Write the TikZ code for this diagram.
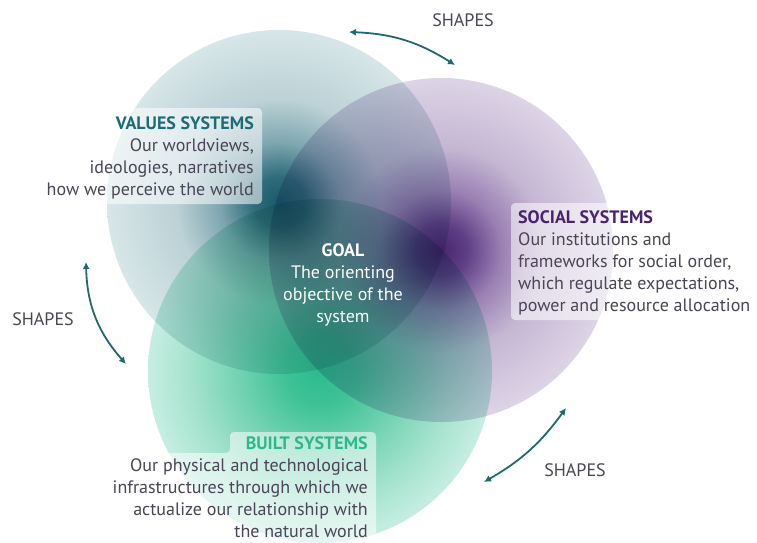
\documentclass[tikz,border=0pt]{standalone}
\usepackage{fontspec}
\setmainfont{PT Sans}
\usetikzlibrary{arrows.meta}
\definecolor{tealA}{HTML}{1B5A6B}
\definecolor{tealB}{HTML}{2F6C7B}
\definecolor{tealC}{HTML}{7FA7B0}
\definecolor{tealD}{HTML}{BCD2D6}
\definecolor{tealE}{HTML}{D7E6E8}
\definecolor{purA}{HTML}{48266E}
\definecolor{purB}{HTML}{5E3E84}
\definecolor{purC}{HTML}{9A80B3}
\definecolor{purD}{HTML}{C5B7D3}
\definecolor{purE}{HTML}{DDD4E6}
\definecolor{grnA}{HTML}{2CBB8E}
\definecolor{grnB}{HTML}{3EC296}
\definecolor{grnC}{HTML}{6ED1B0}
\definecolor{grnD}{HTML}{A4E2CD}
\definecolor{grnE}{HTML}{C6EEE2}
\definecolor{txt}{HTML}{4A4557}
\definecolor{valtxt}{HTML}{1D6B78}
\definecolor{soctxt}{HTML}{4A2370}
\definecolor{blttxt}{HTML}{2DB88C}
\definecolor{arr}{HTML}{1E6A74}
\pgfdeclareradialshading{tealsh}{\pgfpoint{0bp}{0bp}}{color(0bp)=(tealA); color(3.75bp)=(tealB); color(8.75bp)=(tealC); color(15bp)=(tealD); color(25bp)=(tealE); color(50bp)=(tealE)}
\pgfdeclareradialshading{pursh}{\pgfpoint{0bp}{0bp}}{color(0bp)=(purA); color(3.75bp)=(purB); color(8.75bp)=(purC); color(15bp)=(purD); color(25bp)=(purE); color(50bp)=(purE)}
\pgfdeclareradialshading{grnsh}{\pgfpoint{0bp}{0bp}}{color(0bp)=(grnA); color(5bp)=(grnB); color(11.25bp)=(grnC); color(18.75bp)=(grnD); color(25bp)=(grnE); color(50bp)=(grnE)}
\tikzset{
  lbl/.style={font=\fontsize{18}{22}\selectfont, text=txt, inner sep=0pt},
  box/.style={fill=white, fill opacity=0.55, rounded corners=4pt},
  venn/.style={blend mode=multiply},
  shapesarrow/.style={draw=arr, line width=1.8pt, {Latex[length=7pt,width=7pt]}-{Latex[length=7pt,width=7pt]}},
}
\begin{document}
\begin{tikzpicture}[x=1pt,y=-1pt]
\fill[white] (0,0) rectangle (757,542);
\useasboundingbox (0,0) rectangle (757,542);
% circles
\shade[shading=tealsh, venn] (279,202) circle[radius=172pt];
\shade[shading=pursh, venn] (441,250) circle[radius=172pt];
\shade[shading=grnsh, venn] (320,371) circle[radius=172pt];
% label boxes
\fill[box] (40,108) rectangle (262,204);
\fill[box] (511,203) rectangle (770,320);
\fill[box] (230,432) -- (376,432) -- (376,560) -- (104,560) -- (104,453) -- (230,453) -- cycle;
% texts
\node[lbl, anchor=base east, align=right] (values) at (254,195)
  {{\bfseries\color{valtxt}VALUES SYSTEMS}\\Our worldviews,\\ideologies, narratives\\how we perceive the world};
\node[lbl, anchor=base west, align=left] (social) at (518,311)
  {{\bfseries\color{soctxt}SOCIAL SYSTEMS}\\Our institutions and\\frameworks for social order,\\which regulate expectations,\\power and resource allocation};
\node[lbl, anchor=base, align=center, text=white] (goal) at (343,322)
  {{\bfseries GOAL}\\The orienting\\objective of the\\system};
\node[lbl, anchor=base east, align=right] (built) at (368,537)
  {{\bfseries\color{blttxt}BUILT SYSTEMS}\\Our physical and technological\\infrastructures through which we\\actualize our relationship with\\the natural world};
% shapes labels and arrows
\node[lbl] (s1) at (463,20) {SHAPES};
\node[lbl] (s2) at (43,319) {SHAPES};
\node[lbl] (s3) at (575,470) {SHAPES};
\coordinate (a1s) at (349,32);
\coordinate (a1e) at (455,65);
\coordinate (a2s) at (86,262);
\coordinate (a2e) at (126,364);
\coordinate (a3s) at (566,408);
\coordinate (a3e) at (484,482);
\draw[shapesarrow] (a1s) to[bend left=15] (a1e);
\draw[shapesarrow] (a2s) to[bend right=20] (a2e);
\draw[shapesarrow] (a3s) to[bend left=12] (a3e);
\end{tikzpicture}
\end{document}
